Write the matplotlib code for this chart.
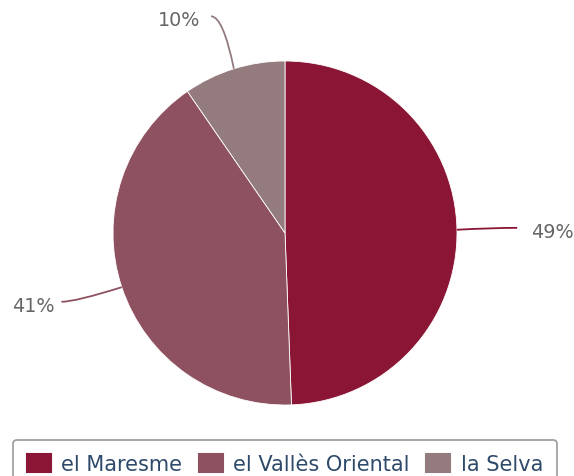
import matplotlib.pyplot as plt
from matplotlib.path import Path
from matplotlib.patches import PathPatch, Patch
import numpy as np

labels = ['el Maresme', 'el Vallès Oriental', 'la Selva']
values = [49.4, 41.0, 9.6]
pct_labels = ['49%', '41%', '10%']
colors = ['#8a1535', '#8e5160', '#937b7e']

# label connector ends (data units, radius = 1) and text positions
ends = [(1.35, 0.03), (-1.30, -0.40), (-0.43, 1.26)]
ctrl = [(1.2, 0.03), (-1.22, -0.40), (-0.36, 1.26)]
texts = [(1.43, 0.01, 'left'), (-1.34, -0.42, 'right'), (-0.49, 1.24, 'right')]

W, H = 574, 477
fig = plt.figure(figsize=(W / 100, H / 100), dpi=100)
cx, cy, r = 285, 234, 172
ax = fig.add_axes([(cx - r) / W, (H - cy - r) / H, 2 * r / W, 2 * r / H])

wedges, _ = ax.pie(values, colors=colors, startangle=90, counterclock=False,
                   wedgeprops=dict(edgecolor='white', linewidth=0.6))
ax.set_xlim(-1, 1)
ax.set_ylim(-1, 1)

total = sum(values)
start = 90.0
for i, v in enumerate(values):
    mid = np.deg2rad(start - 360 * v / total / 2)
    start -= 360 * v / total
    p0 = (np.cos(mid), np.sin(mid))
    path = Path([p0, ctrl[i], ends[i]], [Path.MOVETO, Path.CURVE3, Path.CURVE3])
    ax.add_patch(PathPatch(path, fill=False, edgecolor=colors[i], lw=1.3,
                           clip_on=False))
    tx, ty, ha = texts[i]
    ax.text(tx, ty, pct_labels[i], ha=ha, va='center', fontsize=13.8,
            color='#666666', clip_on=False)

handles = [Patch(facecolor=c, edgecolor=c, linewidth=1.5, joinstyle='round')
           for c in colors]
leg = fig.legend(handles, labels, loc='upper center', ncol=3,
                 bbox_to_anchor=(cx / W, 1 - 441 / H), fontsize=15,
                 frameon=True, fancybox=True, handlelength=1.15,
                 handleheight=1.0, handletextpad=0.5, columnspacing=0.8,
                 borderpad=0.65, borderaxespad=0)
for t in leg.get_texts():
    t.set_color('#2e4a6b')
frame = leg.get_frame()
frame.set_edgecolor('#999999')
frame.set_linewidth(1.2)
frame.set_alpha(1)

fig.savefig('out.png', dpi=100)
